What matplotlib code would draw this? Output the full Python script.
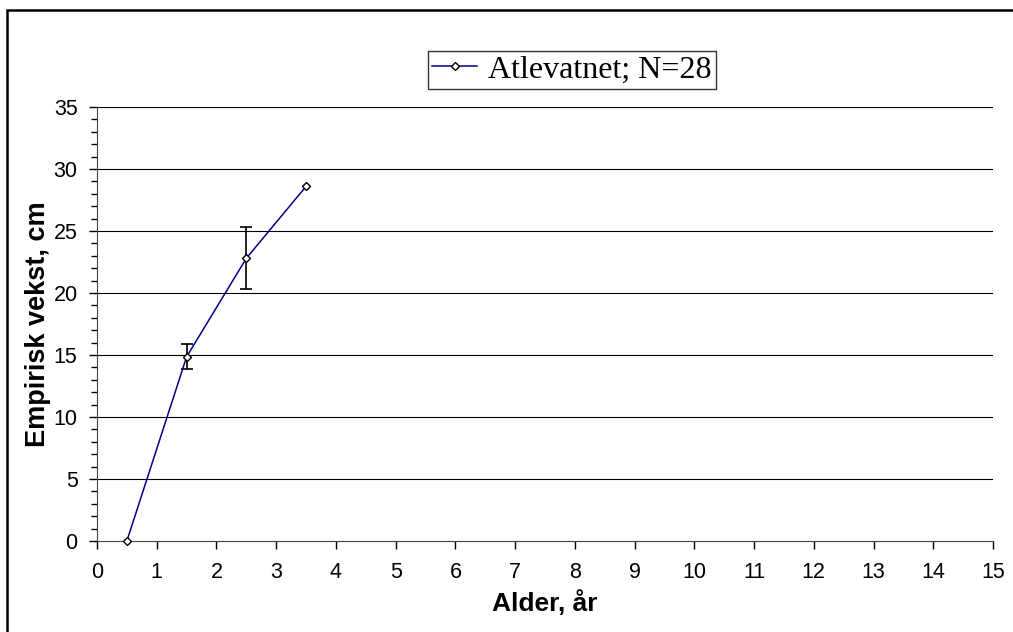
import matplotlib.pyplot as plt
from matplotlib.patches import Rectangle
from matplotlib.ticker import MultipleLocator

alder = [0.5, 1.5, 2.5, 3.5]
vekst = [0.0, 14.85, 22.8, 28.6]
# standard error only for age 1.5 and 2.5
err_x = [1.5, 2.5]
err_y = [14.85, 22.8]
err_lo = [0.95, 2.5]
err_hi = [1.0, 2.5]

plt.rcParams['font.family'] = ['Liberation Sans', 'DejaVu Sans']

fig = plt.figure(figsize=(10.13, 6.32), dpi=100)
ax = fig.add_axes([97 / 1013, 1 - 541 / 632, 896 / 1013, 434 / 632])

# chart area frame, right and bottom edges fall outside the picture
fig.patches.append(Rectangle((7 / 1013, -0.05), 1.2, 1 - 10 / 632 + 0.05,
                             transform=fig.transFigure, fill=False,
                             edgecolor='black', linewidth=1.8))

for y in range(5, 36, 5):
    ax.axhline(y, color='black', linewidth=0.8, zorder=1)

ax.errorbar(err_x, err_y, yerr=[err_lo, err_hi], fmt='none', ecolor='black',
            elinewidth=1.2, capsize=4, capthick=1.2, zorder=2)
ax.plot(alder, vekst, color='#00008B', linewidth=1.1, marker='D', markersize=4.5,
        markerfacecolor='white', markeredgecolor='black', markeredgewidth=1,
        label='Atlevatnet; N=28', zorder=3, clip_on=False)

ax.set_xlim(0, 15)
ax.set_ylim(0, 35)
ax.xaxis.set_major_locator(MultipleLocator(1))
ax.yaxis.set_major_locator(MultipleLocator(5))
ax.yaxis.set_minor_locator(MultipleLocator(1))
ax.tick_params(axis='both', which='major', labelsize=15.5, length=6, width=1, direction='out')
ax.tick_params(axis='x', which='major', pad=9)
ax.tick_params(axis='y', which='major', pad=8)
ax.tick_params(axis='y', which='minor', length=4, width=1, direction='out')
ax.spines['top'].set_visible(False)
ax.spines['right'].set_visible(False)
ax.spines['left'].set_color('#444444')
ax.spines['bottom'].set_color('#444444')

ax.set_xlabel('Alder, år', fontsize=19, fontweight='bold', labelpad=5)
ax.set_ylabel('Empirisk vekst, cm', fontsize=19.5, fontweight='bold', labelpad=2)

leg = fig.legend(loc='center', bbox_to_anchor=(572 / 1013, 1 - 70 / 632), frameon=True,
                 fancybox=False, edgecolor='black', handlelength=1.4, handletextpad=0.35,
                 prop={'family': 'Liberation Serif', 'size': 23}, borderpad=0.15,
                 markerscale=0.9)
leg.get_frame().set_linewidth(1)

fig.savefig('out.png', dpi=100)
